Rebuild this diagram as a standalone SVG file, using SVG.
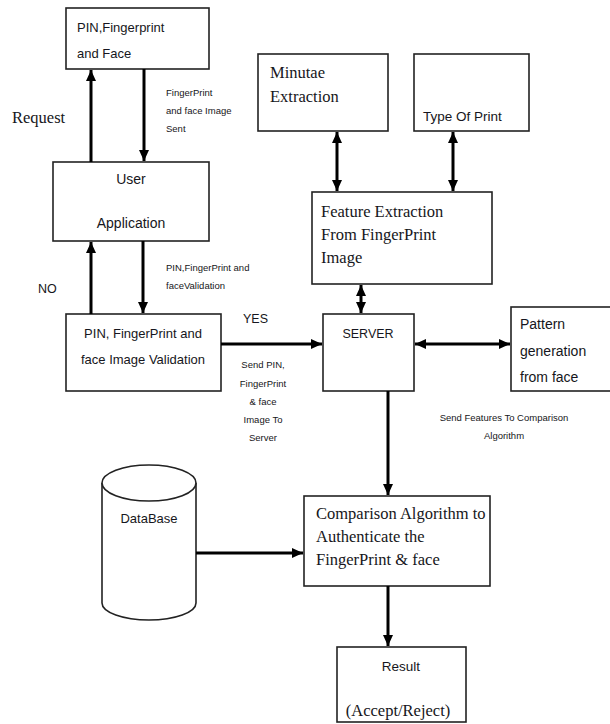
<svg xmlns="http://www.w3.org/2000/svg" width="610" height="724" viewBox="0 0 610 724">
<style>
.box{fill:#fff;stroke:#222;stroke-width:1.6}
.ln{fill:none;stroke:#000;stroke-width:3}
.s{font-family:"Liberation Sans",Arial,sans-serif;fill:#161620}
.r{font-family:"Liberation Serif","Times New Roman",serif;fill:#161620}
.sm{font-family:"Liberation Sans",Arial,sans-serif;font-size:9.5px;fill:#161620}
</style>
<defs>
<marker id="ah" markerUnits="userSpaceOnUse" markerWidth="12" markerHeight="12" viewBox="0 0 12 12" refX="11" refY="6" orient="auto-start-reverse">
<path d="M0,1 L11,6 L0,11 Z" fill="#000"/>
</marker>
</defs>
<rect width="610" height="724" fill="#fff"/>

<g id="pin-request">
<rect class="box" x="66" y="8" width="143" height="61"/>
<text class="s" x="77" y="32" font-size="13">PIN,Fingerprint</text>
<text class="s" x="77" y="58" font-size="13">and Face</text>
</g>

<g id="user-app">
<rect class="box" x="53" y="162" width="156" height="79"/>
<text class="s" x="131" y="184" font-size="14" text-anchor="middle">User</text>
<text class="s" x="131" y="228" font-size="14" text-anchor="middle">Application</text>
</g>

<g id="validation">
<rect class="box" x="66" y="314" width="155" height="77"/>
<text class="s" x="143" y="338" font-size="13" text-anchor="middle">PIN, FingerPrint and</text>
<text class="s" x="143" y="364" font-size="13" text-anchor="middle">face Image Validation</text>
</g>

<g id="minutae">
<rect class="box" x="258" y="54" width="130" height="77"/>
<text class="r" x="270" y="78" font-size="16.5">Minutae</text>
<text class="r" x="270" y="102" font-size="16.5">Extraction</text>
</g>

<g id="type-print">
<rect class="box" x="414" y="54" width="115" height="77"/>
<text class="s" x="423" y="121" font-size="13.5">Type Of Print</text>
</g>

<g id="feature-extraction">
<rect class="box" x="312" y="192" width="180" height="92"/>
<text class="r" x="321" y="217" font-size="16.5">Feature Extraction</text>
<text class="r" x="321" y="240" font-size="16.5">From FingerPrint</text>
<text class="r" x="321" y="263" font-size="16.5">Image</text>
</g>

<g id="server">
<rect class="box" x="323" y="314" width="91" height="77"/>
<text class="s" x="368" y="338" font-size="12.5" text-anchor="middle">SERVER</text>
</g>

<g id="pattern">
<rect class="box" x="511" y="307" width="104" height="84"/>
<text class="s" x="520" y="329" font-size="14">Pattern</text>
<text class="s" x="520" y="356" font-size="14">generation</text>
<text class="s" x="520" y="382" font-size="14">from face</text>
</g>

<g id="database">
<path class="box" d="M102,483 L102,603 A47,17 0 0 0 196,603 L196,483"/>
<ellipse class="box" cx="149" cy="483" rx="47" ry="18"/>
<text class="s" x="149" y="523" font-size="13" text-anchor="middle">DataBase</text>
</g>

<g id="comparison">
<rect class="box" x="304" y="496" width="186" height="90"/>
<text class="r" x="316" y="519" font-size="16.5">Comparison Algorithm to</text>
<text class="r" x="316" y="542" font-size="16.5">Authenticate the</text>
<text class="r" x="316" y="565" font-size="16.5">FingerPrint &amp; face</text>
</g>

<g id="result">
<rect class="box" x="337" y="647" width="129" height="75"/>
<text class="s" x="401" y="671" font-size="13.5" text-anchor="middle">Result</text>
<text class="r" x="398" y="716" font-size="16.5" text-anchor="middle">(Accept/Reject)</text>
</g>

<g id="connectors">
<line class="ln" x1="91" y1="162" x2="91" y2="70" marker-end="url(#ah)"/>
<line class="ln" x1="144" y1="69" x2="144" y2="161" marker-end="url(#ah)"/>
<line class="ln" x1="91" y1="314" x2="91" y2="242" marker-end="url(#ah)"/>
<line class="ln" x1="143" y1="241" x2="143" y2="313" marker-end="url(#ah)"/>
<line class="ln" x1="221" y1="344" x2="322" y2="344" marker-end="url(#ah)"/>
<line class="ln" x1="337" y1="132" x2="337" y2="191" marker-start="url(#ah)" marker-end="url(#ah)"/>
<line class="ln" x1="453" y1="132" x2="453" y2="191" marker-start="url(#ah)" marker-end="url(#ah)"/>
<line class="ln" x1="361" y1="285" x2="361" y2="313" marker-start="url(#ah)" marker-end="url(#ah)"/>
<line class="ln" x1="415" y1="344" x2="510" y2="344" marker-start="url(#ah)" marker-end="url(#ah)"/>
<line class="ln" x1="388" y1="391" x2="388" y2="495" marker-end="url(#ah)"/>
<line class="ln" x1="196" y1="553" x2="303" y2="553" marker-end="url(#ah)"/>
<line class="ln" x1="388" y1="586" x2="388" y2="646" marker-end="url(#ah)"/>
</g>

<g id="labels">
<text class="r" x="12" y="123" font-size="16.5">Request</text>
<text class="sm" x="166" y="96">FingerPrint</text>
<text class="sm" x="166" y="114">and face Image</text>
<text class="sm" x="166" y="132">Sent</text>
<text class="s" x="38" y="293" font-size="12.5">NO</text>
<text class="sm" x="166" y="271">PIN,FingerPrint  and</text>
<text class="sm" x="166" y="289">faceValidation</text>
<text class="s" x="243" y="323" font-size="12.5">YES</text>
<text class="sm" x="263" y="368" text-anchor="middle">Send PIN,</text>
<text class="sm" x="263" y="387" text-anchor="middle">FingerPrint</text>
<text class="sm" x="263" y="405" text-anchor="middle">&amp; face</text>
<text class="sm" x="263" y="423" text-anchor="middle">Image To</text>
<text class="sm" x="263" y="441" text-anchor="middle">Server</text>
<text class="sm" x="504" y="421" text-anchor="middle">Send Features To Comparison</text>
<text class="sm" x="504" y="439" text-anchor="middle">Algorithm</text>
</g>
</svg>
